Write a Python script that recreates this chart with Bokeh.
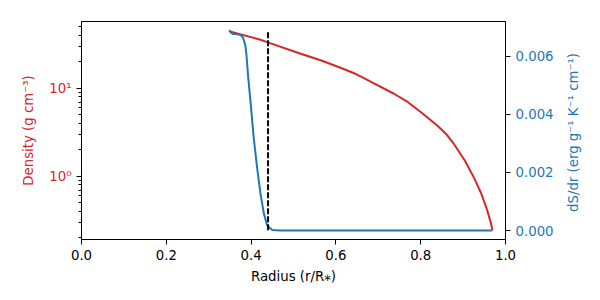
import math
from bokeh.plotting import figure
from bokeh.layouts import row
from bokeh.models import (LinearAxis, Range1d, FixedTicker, NumeralTickFormatter,
                          LinearScale)
from bokeh.core.properties import value
from bokeh.embed import file_html
from bokeh.resources import INLINE

# ---- data ----
radius_rho = [0.348, 0.422, 0.438, 0.517, 0.564, 0.611, 0.643, 0.674, 0.737,
              0.770, 0.800, 0.839, 0.860, 0.878, 0.904, 0.925, 0.943, 0.957,
              0.966, 0.969]
density = [44.8, 35.8, 33.6, 24.8, 20.9, 17.2, 14.9, 12.5, 8.71,
           6.98, 5.40, 3.80, 3.04, 2.35, 1.52, 0.982, 0.636, 0.411,
           0.290, 0.245]

radius_ds = [0.348, 0.356, 0.368, 0.376, 0.381, 0.386, 0.389, 0.393, 0.399,
             0.406, 0.414, 0.422, 0.430, 0.438, 0.450, 0.469, 0.700, 0.969]
dsdr = [0.00690, 0.00678, 0.00676, 0.00673, 0.00664, 0.00641, 0.00607, 0.00530,
        0.00438, 0.00322, 0.00218, 0.00128, 0.00059, 0.00017, 0.00002, 0.0,
        0.0, 0.0]

conv_boundary = 0.44

x_ticks = [0.0, 0.2, 0.4, 0.6, 0.8, 1.0]
rho_major = [1, 10]
rho_minor = [0.2, 0.3, 0.4, 0.5, 0.6, 0.7, 0.8, 0.9,
             2, 3, 4, 5, 6, 7, 8, 9, 20, 30, 40, 50]
rho_labels = {1: "10\u2070", 10: "10\u00b9"}
ds_ticks = [0.0, 0.002, 0.004, 0.006]
ds_title = "dS/dr (erg g\u207b\u00b9 K\u207b\u00b9 cm\u207b\u00b9)"

RED = "#d62728"
BLUE = "#1f77b4"
FS = "13.3px"
FONT = "DejaVu Sans"

p = figure(frame_width=424, frame_height=218,
           x_range=Range1d(0, 1), y_range=Range1d(0.192, 57.7),
           y_axis_type="log", output_backend="svg", toolbar_location=None,
           min_border_left=81, min_border_right=56, min_border_top=21,
           min_border_bottom=53)
p.extra_y_ranges = {"ds": Range1d(-0.00031, 0.0072)}
p.extra_y_scales = {"ds": LinearScale()}
p.grid.visible = False
p.outline_line_color = "black"
p.outline_line_alpha = 1
p.outline_line_width = 1
p.background_fill_color = "white"
p.border_fill_color = "white"

# density curve
p.line(radius_rho, density, line_color=RED, line_width=2)
# dS/dr curve
p.line(radius_ds, dsdr, line_color=BLUE, line_width=2, y_range_name="ds")
# boundary
p.segment(x0=[conv_boundary], y0=[min(density)], x1=[conv_boundary],
          y1=[max(density)], line_color="black", line_width=2,
          line_dash=value("6 2"))

def style(ax, color):
    ax.axis_line_color = "black"
    ax.major_tick_line_color = "black"
    ax.minor_tick_line_color = "black"
    ax.major_tick_in = 0
    ax.major_tick_out = 5
    ax.minor_tick_in = 0
    ax.minor_tick_out = 3
    ax.major_label_text_font = FONT
    ax.major_label_text_font_size = FS
    ax.major_label_text_color = color
    ax.axis_label_text_font = FONT
    ax.axis_label_text_font_size = FS
    ax.axis_label_text_font_style = "normal"
    ax.axis_label_text_color = color
    ax.major_label_standoff = 5

# x axis
xa = p.xaxis[0]
style(xa, "black")
xa.ticker = FixedTicker(ticks=x_ticks)
xa.formatter = NumeralTickFormatter(format="0.0")
xa.minor_tick_line_color = None
xa.axis_label = "Radius (r/R\u204e)"
xa.axis_label_standoff = 6

# left log axis
ya = p.yaxis[0]
style(ya, RED)
ya.ticker = FixedTicker(ticks=rho_major, minor_ticks=rho_minor)
ya.major_label_overrides = rho_labels
ya.axis_label = "Density (g cm\u207b\u00b3)"
ya.axis_label_standoff = 10

# right axis
ra = LinearAxis(y_range_name="ds")
style(ra, BLUE)
ra.ticker = FixedTicker(ticks=ds_ticks)
ra.formatter = NumeralTickFormatter(format="0.000")
ra.minor_tick_line_color = None
p.add_layout(ra, "right")

# narrow strip holding the right axis title, reading bottom-to-top
t = figure(frame_width=24, frame_height=292, x_range=Range1d(0, 1),
           y_range=Range1d(0, 292), output_backend="svg",
           toolbar_location=None, x_axis_location=None, y_axis_location=None,
           min_border=0)
t.min_border_left = 0
t.min_border_right = 0
t.min_border_top = 0
t.min_border_bottom = 0
t.grid.visible = False
t.outline_line_color = None
t.background_fill_color = "white"
t.border_fill_color = "white"
t.text(x=[0.5], y=[181], text=[ds_title], angle=math.pi / 2,
       text_align="center", text_baseline="middle",
       text_font=value(FONT), text_font_size=value(FS), text_color=BLUE)

layout = row(p, t, spacing=0)
open("out.html", "w").write(file_html(layout, INLINE))
